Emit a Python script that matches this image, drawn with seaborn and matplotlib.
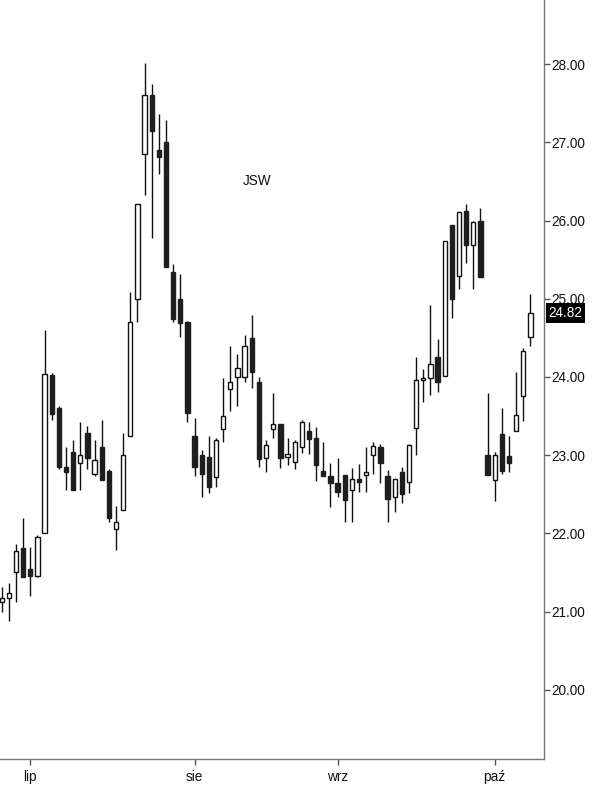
import matplotlib
matplotlib.use("Agg")
import matplotlib.pyplot as plt
import matplotlib.transforms as mtransforms
import numpy as np
import seaborn as sns

# daily OHLC for JSW, one entry per session (late June .. early October)
opens = [21.13, 21.18, 21.51, 21.81, 21.55, 21.46, 22.01, 24.03, 23.61, 22.85,
         23.04, 22.90, 23.29, 22.76, 23.11, 22.80, 22.06, 22.30, 23.25, 25.00,
         26.85, 27.60, 26.90, 27.00, 25.34, 25.00, 24.70, 23.25, 23.00, 22.98,
         22.72, 23.33, 23.85, 24.00, 24.00, 24.50, 23.94, 22.97, 23.34, 23.40,
         22.98, 22.92, 23.11, 23.31, 23.22, 22.80, 22.73, 22.64, 22.75, 22.55,
         22.70, 22.75, 23.00, 23.10, 22.74, 22.47, 22.78, 22.66, 23.35, 23.96,
         23.99, 24.26, 24.01, 25.94, 25.29, 26.12, 25.69, 26.00, 23.00, 22.69,
         23.27, 22.99, 23.31, 23.76, 24.51]
highs = [21.31, 21.37, 21.86, 22.20, 21.83, 21.98, 24.60, 24.05, 23.63, 23.11,
         23.20, 23.43, 23.37, 23.20, 23.45, 22.82, 22.35, 23.29, 25.09, 26.21,
         28.01, 27.74, 27.36, 27.28, 25.44, 25.31, 24.72, 23.48, 23.07, 23.24,
         23.22, 23.99, 24.39, 24.30, 24.54, 24.79, 24.00, 23.20, 23.79, 23.40,
         23.22, 23.20, 23.45, 23.43, 23.36, 23.17, 22.90, 22.97, 22.75, 22.84,
         22.89, 23.10, 23.17, 23.15, 22.81, 22.70, 22.85, 23.15, 24.26, 24.10,
         24.92, 24.49, 25.74, 25.94, 26.11, 26.21, 26.00, 26.16, 23.80, 23.04,
         23.61, 23.25, 24.06, 24.37, 25.06]
lows = [21.00, 20.88, 21.13, 21.44, 21.20, 21.45, 22.00, 23.45, 22.82, 22.55,
        22.55, 22.55, 22.82, 22.74, 22.69, 22.15, 21.79, 22.30, 23.25, 24.70,
        26.33, 25.78, 26.60, 25.41, 24.70, 24.51, 23.43, 22.74, 22.46, 22.52,
        22.60, 23.17, 23.56, 23.63, 23.93, 23.86, 22.85, 22.79, 23.22, 22.84,
        22.87, 22.83, 23.03, 23.02, 22.67, 22.73, 22.34, 22.47, 22.15, 22.15,
        22.53, 22.53, 22.76, 22.65, 22.15, 22.28, 22.39, 22.52, 23.00, 23.68,
        23.77, 23.81, 24.01, 24.76, 25.13, 25.46, 25.13, 25.28, 22.75, 22.42,
        22.76, 22.78, 23.31, 23.44, 24.40]
closes = [21.18, 21.24, 21.77, 21.45, 21.46, 21.96, 24.04, 23.53, 22.85, 22.79,
          22.55, 23.00, 22.96, 22.94, 22.69, 22.20, 22.15, 23.00, 24.70, 26.21,
          27.60, 27.14, 26.81, 25.41, 24.74, 24.69, 23.54, 22.85, 22.76, 22.60,
          23.20, 23.50, 23.94, 24.12, 24.40, 24.07, 22.95, 23.13, 23.40, 22.97,
          23.00, 23.17, 23.43, 23.21, 22.87, 22.73, 22.64, 22.53, 22.43, 22.70,
          22.66, 22.78, 23.12, 22.90, 22.44, 22.70, 22.51, 23.13, 23.96, 23.99,
          24.16, 23.94, 25.74, 25.00, 26.11, 25.69, 25.98, 25.28, 22.75, 23.00,
          22.80, 22.90, 23.52, 24.33, 24.82]

# first session of each month shown on the axis
month_starts = [4, 27, 47, 69]
month_labels = ["lip", "sie", "wrz", "paź"]
price_ticks = [20, 21, 22, 23, 24, 25, 26, 27, 28]
ticker = "JSW"


def main():
    sns.set_theme(style="white")
    plt.rcParams["font.family"] = ["Liberation Sans", "DejaVu Sans"]

    o = np.array(opens)
    h = np.array(highs)
    l = np.array(lows)
    c = np.array(closes)
    x = np.arange(len(o))
    up = c >= o

    fig = plt.figure(figsize=(6.06, 7.88), dpi=100)
    ax = fig.add_axes([0, 1 - 759 / 788, 544 / 606, 759 / 788])

    ax.vlines(x, l, h, color="#111111", linewidth=1.0, zorder=2)
    bottom = np.minimum(o, c)
    height = np.maximum(np.abs(c - o), 0.03)
    ax.bar(x[up], height[up], bottom=bottom[up], width=0.6,
           color="white", edgecolor="#111111", linewidth=1.0, zorder=3)
    ax.bar(x[~up], height[~up], bottom=bottom[~up], width=0.6,
           color="#1e1e1e", edgecolor="#1e1e1e", linewidth=1.0, zorder=3)

    ax.set_xlim(-0.24, 75.9)
    ax.set_ylim(19.118, 28.818)

    ax.yaxis.tick_right()
    ax.set_yticks(price_ticks)
    ax.set_yticklabels([f"{v:.2f}" for v in price_ticks])
    ax.set_xticks(month_starts)
    ax.set_xticklabels(month_labels)
    ax.tick_params(axis="both", colors="#555555", labelcolor="#111111",
                   length=4, width=1, labelsize=9.8, direction="out",
                   bottom=True, right=True, left=False)
    ax.tick_params(axis="x", pad=4)
    ax.tick_params(axis="y", pad=1)

    for side in ("top", "left"):
        ax.spines[side].set_visible(False)
    for side in ("right", "bottom"):
        ax.spines[side].set_visible(True)
        ax.spines[side].set_color("#777777")
        ax.spines[side].set_linewidth(1.0)
    ax.grid(False)

    ax.text(0.472, 0.762, ticker, transform=ax.transAxes, ha="center",
            va="center", fontsize=9.8, color="#111111")

    trans = mtransforms.blended_transform_factory(ax.transAxes, ax.transData)
    ax.text(1.008, closes[-1], f"{closes[-1]:.2f}", transform=trans,
            ha="left", va="center", fontsize=9.8, color="white",
            bbox=dict(facecolor="black", edgecolor="none", pad=2.0))

    fig.savefig("out.png", dpi=100)
    plt.close(fig)


if __name__ == "__main__":
    main()
